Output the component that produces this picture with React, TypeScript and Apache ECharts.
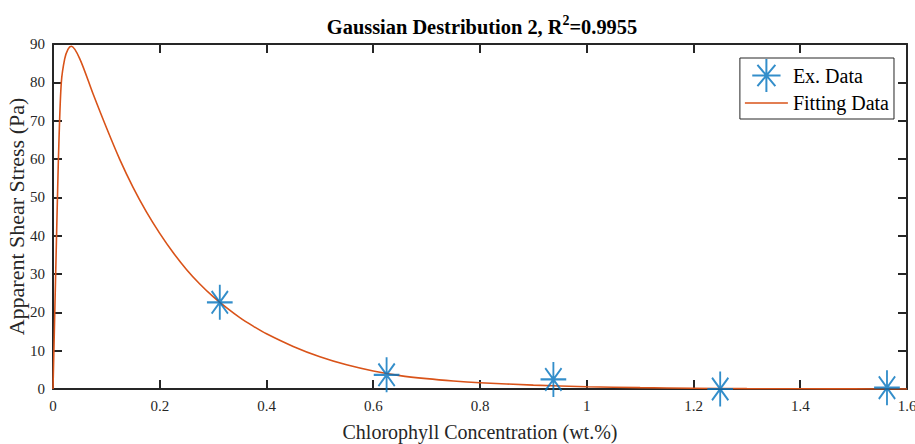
import React, { useEffect, useRef } from "react";
import * as echarts from "echarts";

// Fitted Gaussian (2-term) curve, sampled along x
const fitX = [
  0, 0.003, 0.006, 0.0087, 0.0112, 0.0156, 0.0219, 0.028, 0.0343, 0.05,
  0.075, 0.1, 0.125, 0.15, 0.175, 0.2, 0.225, 0.25, 0.275, 0.3, 0.325, 0.35,
  0.375, 0.4, 0.45, 0.5, 0.55, 0.6, 0.65, 0.7, 0.75, 0.8, 0.9, 1.0, 1.1, 1.2,
  1.3, 1.4, 1.5, 1.6,
];
const fitY = [
  0, 18, 36, 52, 65, 80, 86.1, 88.6, 89.4, 86.2, 77.0, 68.2, 59.9, 52.6,
  46.2, 40.6, 35.6, 31.2, 27.4, 24.1, 21.2, 18.6, 16.4, 14.4, 11.1, 8.4, 6.3,
  4.7, 3.5, 2.7, 2.1, 1.65, 1.0, 0.6, 0.35, 0.2, 0.1, 0.05, 0.02, 0.01,
];

// Measured points
const dataX = [0.3125, 0.625, 0.9375, 1.25, 1.5625];
const dataY = [22.6, 3.7, 2.5, 0, 0.35];

// Axis ranges
const xRange = [0, 1.6];
const xStep = 0.2;
const yRange = [0, 90];
const yStep = 10;

const SERIF = "'Liberation Serif', 'Times New Roman', serif";
const AXIS_COLOR = "#262626";
const BLUE = "#0072BD";
const ORANGE = "#D95319";

// asterisk marker: vertical, horizontal and two diagonal strokes
const STAR =
  "path://M15 0 L15 35 M0 17.5 L30 17.5 M5.5 6.2 L24.5 28.8 M5.5 28.8 L24.5 6.2";
// short horizontal stroke used as the fitted-line legend key
const LINE_KEY = "path://M0 0 L43 0 L43 1.6 L0 1.6 Z";

const axisLine = () => ({
  onZero: false,
  lineStyle: { color: AXIS_COLOR, width: 2 },
});
const axisTick = () => ({
  inside: true,
  length: 9,
  lineStyle: { color: AXIS_COLOR, width: 2 },
});

export default function App() {
  const ref = useRef<HTMLDivElement>(null);

  useEffect(() => {
    if (!ref.current) return;
    const chart = echarts.init(ref.current, undefined, { renderer: "svg" });

    chart.setOption({
      animation: false,
      backgroundColor: "#fff",
      title: {
        text: "{b|Gaussian Destribution 2, R}{sup|2}{b|=0.9955}",
        left: 477,
        top: 8,
        textAlign: "center",
        textStyle: {
          rich: {
            b: {
              fontFamily: SERIF,
              fontSize: 20.4,
              fontWeight: "bold",
              color: "#000",
              verticalAlign: "bottom",
              lineHeight: 24,
            },
            sup: {
              fontFamily: SERIF,
              fontSize: 14,
              fontWeight: "bold",
              color: "#000",
              verticalAlign: "bottom",
              padding: [0, 0, 10, 0],
            },
          },
        },
      },
      legend: {
        orient: "vertical",
        right: 21,
        top: 58,
        data: [
          { name: "Ex. Data" },
          { name: "Fitting Data", icon: LINE_KEY },
        ],
        itemWidth: 43,
        itemHeight: 33,
        itemGap: 0,
        padding: [0, 5, 6, 5],
        borderColor: AXIS_COLOR,
        borderWidth: 1,
        borderRadius: 0,
        backgroundColor: "#fff",
        selectedMode: false,
        textStyle: { fontFamily: SERIF, fontSize: 20, color: "#000" },
      },
      grid: {
        left: 53,
        right: 8,
        top: 44,
        bottom: 55,
        containLabel: false,
        outerBoundsMode: "none",
      },
      xAxis: [
        {
          type: "value",
          position: "bottom",
          min: xRange[0],
          max: xRange[1],
          interval: xStep,
          axisLine: axisLine(),
          axisTick: axisTick(),
          splitLine: { show: false },
          axisLabel: {
            fontFamily: SERIF,
            fontSize: 15,
            color: AXIS_COLOR,
            margin: 9,
          },
          name: "Chlorophyll Concentration (wt.%)",
          nameLocation: "middle",
          nameGap: 33,
          nameMoveOverlap: false,
          nameTextStyle: { fontFamily: SERIF, fontSize: 20, color: AXIS_COLOR },
        },
        {
          type: "value",
          position: "top",
          min: xRange[0],
          max: xRange[1],
          interval: xStep,
          axisLine: axisLine(),
          axisTick: axisTick(),
          axisLabel: { show: false },
          splitLine: { show: false },
        },
      ],
      yAxis: [
        {
          type: "value",
          position: "left",
          min: yRange[0],
          max: yRange[1],
          interval: yStep,
          axisLine: axisLine(),
          axisTick: axisTick(),
          splitLine: { show: false },
          axisLabel: {
            fontFamily: SERIF,
            fontSize: 15,
            color: AXIS_COLOR,
            margin: 8,
          },
          name: "Apparent Shear Stress (Pa)",
          nameLocation: "middle",
          nameGap: 26,
          nameMoveOverlap: false,
          nameTextStyle: { fontFamily: SERIF, fontSize: 22, color: AXIS_COLOR },
        },
        {
          type: "value",
          position: "right",
          min: yRange[0],
          max: yRange[1],
          interval: yStep,
          axisLine: axisLine(),
          axisTick: axisTick(),
          axisLabel: { show: false },
          splitLine: { show: false },
        },
      ],
      series: [
        {
          type: "scatter",
          name: "Ex. Data",
          data: dataX.map((x, i) => [x, dataY[i]]),
          symbol: STAR,
          symbolSize: [30, 35],
          symbolKeepAspect: true,
          itemStyle: { color: BLUE, borderColor: BLUE, borderWidth: 2 },
          z: 4,
        },
        {
          type: "line",
          name: "Fitting Data",
          data: fitX.map((x, i) => [x, fitY[i]]),
          symbol: "none",
          smooth: 0.3,
          lineStyle: { color: ORANGE, width: 1.6 },
          itemStyle: { color: ORANGE },
          z: 3,
        },
      ],
    });

    return () => chart.dispose();
  }, []);

  return (
    <div
      ref={ref}
      style={{ position: "fixed", left: 0, top: 0, width: 915, height: 444 }}
    />
  );
}
